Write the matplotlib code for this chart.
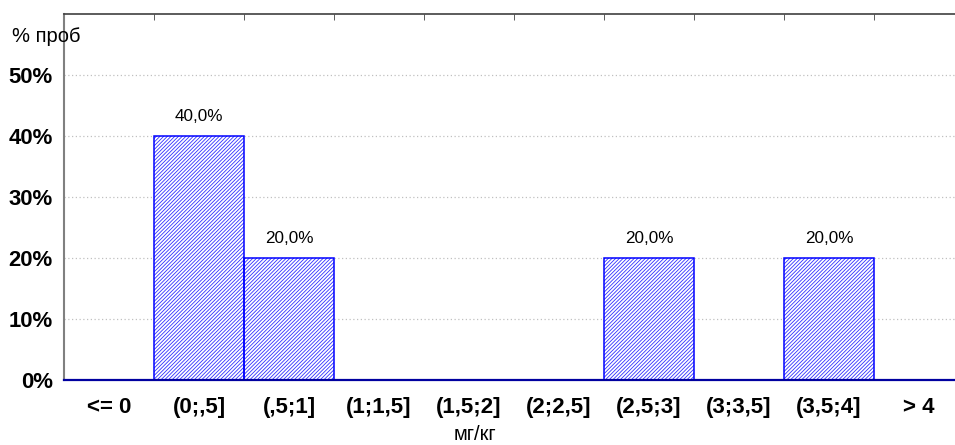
import matplotlib
matplotlib.use("Agg")
import matplotlib.pyplot as plt
import numpy as np

plt.rcParams['font.family'] = ['Liberation Sans', 'DejaVu Sans']
plt.rcParams['hatch.linewidth'] = 0.6

categories = ["<= 0", "(0;,5]", "(,5;1]", "(1;1,5]", "(1,5;2]", "(2;2,5]",
              "(2,5;3]", "(3;3,5]", "(3,5;4]", "> 4"]
values = [0, 40, 20, 0, 0, 0, 20, 0, 20, 0]
yticks = [0, 10, 20, 30, 40, 50]
ytick_labels = ["0%", "10%", "20%", "30%", "40%", "50%"]
ylabel = "% проб"
xlabel = "мг/кг"

fig = plt.figure(figsize=(9.55, 4.45), dpi=100)
W, H = 955, 445
ax = fig.add_axes([64 / W, 1 - 380 / H, 900 / W, 366 / H])

x = np.arange(len(categories))
for xi, v in zip(x, values):
    if v > 0:
        # hatch layer
        ax.bar(xi, v, width=1.0, facecolor="white", edgecolor="#3030ff",
               hatch="/////////", linewidth=0, zorder=3)
        # outline
        ax.bar(xi, v, width=1.0, fill=False, edgecolor="#0000ff",
               linewidth=1.1, zorder=4)
        ax.text(xi, v + 2.0, f"{v:.1f}%".replace(".", ","), ha="center",
                va="bottom", fontsize=12.3, zorder=5)

ax.set_xlim(-0.5, len(categories) - 0.5)
ax.set_ylim(0, 60)
ax.set_yticks(yticks)
ax.set_yticklabels(ytick_labels, fontsize=15.9, fontweight="bold")
ax.set_xticks(x)
ax.set_xticklabels(categories, fontsize=16, fontweight="bold")
ax.set_xticks(np.arange(0.5, len(categories) - 0.5, 1.0), minor=True)
ax.tick_params(axis="x", which="major", length=0, pad=12)
ax.tick_params(axis="x", which="minor", bottom=False, top=True,
               direction="in", length=4, color="#404040")
ax.tick_params(axis="y", length=0, pad=8)

ax.yaxis.grid(True, linestyle=(0, (1, 2)), color="#c0c0c0", linewidth=0.9)
ax.set_axisbelow(True)

ax.spines["right"].set_visible(False)
ax.spines["left"].set_color("#808080")
ax.spines["left"].set_linewidth(1.5)
ax.spines["top"].set_color("#404040")
ax.spines["top"].set_linewidth(1.2)
ax.spines["bottom"].set_color("#0000a0")
ax.spines["bottom"].set_linewidth(1.6)
ax.spines["bottom"].set_zorder(6)

fig.text(12 / W, 1 - 37 / H, ylabel, fontsize=14.5, ha="left", va="center")
fig.text(475 / W, 1 - 440 / H, xlabel, fontsize=14.5, ha="center",
         va="baseline")

fig.savefig("out.png", dpi=100)
